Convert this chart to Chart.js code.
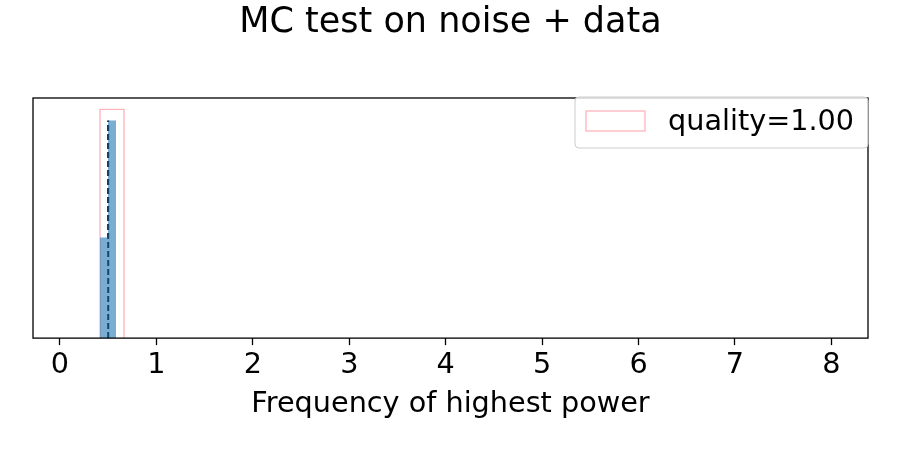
<!DOCTYPE html>
<html>
<head>
<meta charset="utf-8">
<script src="https://cdn.jsdelivr.net/npm/chart.js@4/dist/chart.umd.min.js"></script>
<style>
  html, body { margin: 0; padding: 0; background: #fff; }
  #wrap { width: 900px; height: 450px; }
</style>
</head>
<body>
<div id="wrap"><canvas id="c"></canvas></div>
<script>
// ── data ──
const noiseEdges   = [0.415, 0.498, 0.581];   // blue histogram bin edges
const noiseHeights = [0.44, 0.952];           // blue histogram heights
const dataEdges    = [0.415, 0.664];          // pink step histogram bin edges
const dataHeights  = [1.0];                   // pink step histogram heights
const medianFreq   = 0.5;                     // dashed marker
const xTicks       = [0, 1, 2, 3, 4, 5, 6, 7, 8];
const legendLabel  = 'quality=1.00';

const FONT = 'DejaVu Sans';
const PINK = '#ffb3bd';
const TXT  = 28.7;

// turn edges + heights into an outline path (step histogram)
function stepPoints(edges, heights) {
  const pts = [{ x: edges[0], y: 0 }];
  heights.forEach((h, i) => {
    pts.push({ x: edges[i], y: h });
    pts.push({ x: edges[i + 1], y: h });
  });
  pts.push({ x: edges[edges.length - 1], y: 0 });
  return pts;
}

// full box frame + legend drawn inside the plot area
const framePlugin = {
  id: 'frame',
  afterDatasetsDraw(chart) {
    const { ctx, chartArea: a } = chart;
    ctx.save();
    ctx.strokeStyle = '#000';
    ctx.lineWidth = 1.3;
    ctx.strokeRect(a.left, a.top, a.right - a.left, a.bottom - a.top);

    // legend box
    const w = 293, h = 51;
    const x = a.right - w, y = a.top - 1;
    ctx.beginPath();
    ctx.roundRect(x, y, w, h, 4);
    ctx.fillStyle = 'rgba(255,255,255,0.8)';
    ctx.fill();
    ctx.strokeStyle = '#cccccc';
    ctx.lineWidth = 1;
    ctx.stroke();
    ctx.strokeStyle = PINK;
    ctx.lineWidth = 1.3;
    ctx.strokeRect(x + 11, y + 14, 59, 20);
    ctx.fillStyle = '#000';
    ctx.font = `${TXT}px "${FONT}"`;
    ctx.textBaseline = 'middle';
    ctx.fillText(legendLabel, x + 93, y + 26);
    ctx.restore();
  }
};

new Chart(document.getElementById('c'), {
  type: 'line',
  data: {
    datasets: [
      {
        label: 'noise',
        data: stepPoints(noiseEdges, noiseHeights),
        borderWidth: 0,
        borderColor: 'rgba(0,0,0,0)',
        backgroundColor: 'rgba(31,119,180,0.6)',
        fill: 'origin',
        pointRadius: 0,
        tension: 0,
      },
      {
        label: legendLabel,
        data: stepPoints(dataEdges, dataHeights),
        borderWidth: 1.3,
        borderColor: PINK,
        backgroundColor: 'rgba(0,0,0,0)',
        fill: false,
        pointRadius: 0,
        tension: 0,
      },
      {
        label: 'median',
        data: [{ x: medianFreq, y: 0 }, { x: medianFreq, y: noiseHeights[1] }],
        borderWidth: 2,
        borderColor: '#000',
        borderDash: [6, 3],
        fill: false,
        pointRadius: 0,
      },
    ],
  },
  options: {
    responsive: true, maintainAspectRatio: false,
    animation: false,
    layout: { padding: { left: 33, right: 32, top: 0, bottom: 27 } },
    plugins: {
      legend: { display: false },
      tooltip: { enabled: false },
      title: {
        display: true,
        text: 'MC test on noise + data',
        color: '#000',
        font: { family: FONT, size: 35, weight: 'normal' },
        padding: { top: 2, bottom: 54 },
      },
    },
    scales: {
      x: {
        type: 'linear',
        min: -0.28, max: 8.38,
        afterBuildTicks: axis => { axis.ticks = xTicks.map(v => ({ value: v })); },
        grid: { drawOnChartArea: false, drawTicks: true, tickLength: 7, tickColor: '#000', tickWidth: 1.3 },
        border: { display: false },
        ticks: { color: '#000', padding: 3, maxRotation: 0, font: { family: FONT, size: TXT } },
        title: {
          display: true, text: 'Frequency of highest power', color: '#000',
          font: { family: FONT, size: TXT }, padding: { top: 2, bottom: 1 },
        },
      },
      y: { display: false, min: 0, max: 1.05 },
    },
  },
  plugins: [framePlugin],
});
</script>
</body>
</html>
